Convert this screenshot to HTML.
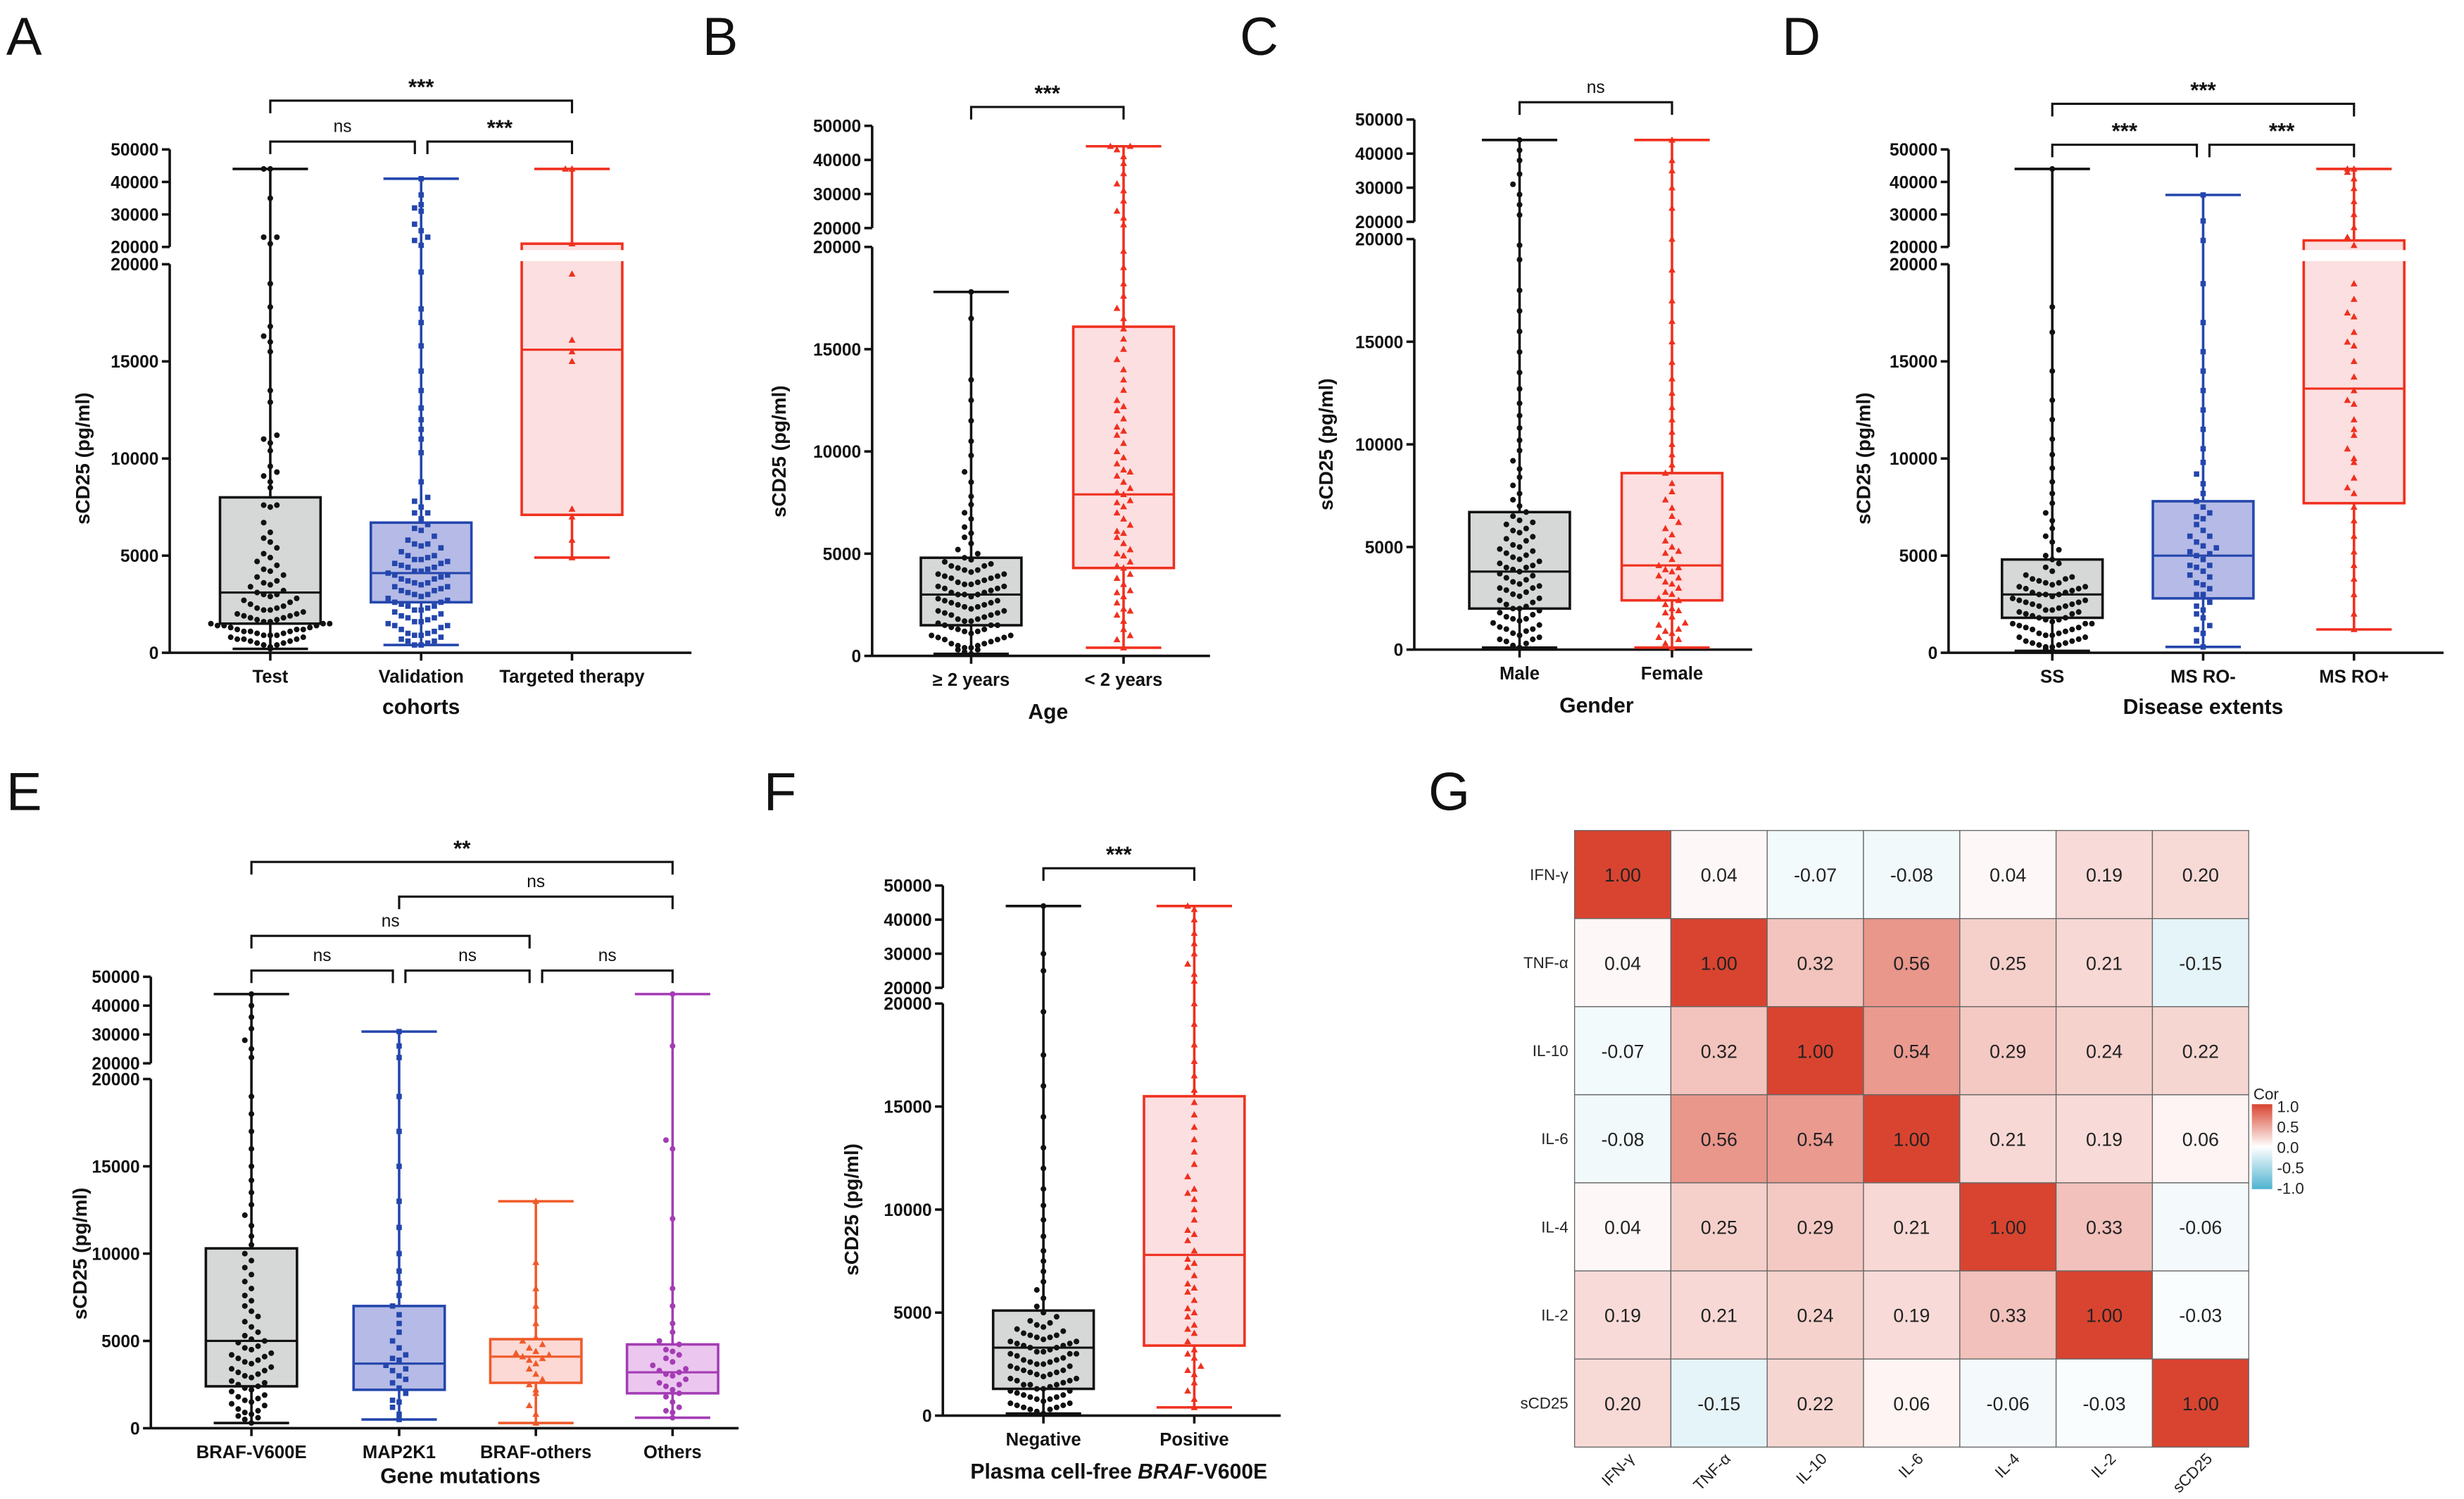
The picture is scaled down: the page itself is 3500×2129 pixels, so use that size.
<!DOCTYPE html>
<html><head><meta charset="utf-8"><style>
html,body{margin:0;padding:0;background:#fff}
svg{display:block}
text{font-family:"Liberation Sans",Arial,sans-serif}
</style></head><body>
<svg id="fig" width="3500" height="2129" viewBox="0 0 1568 953" preserveAspectRatio="none" xmlns="http://www.w3.org/2000/svg"></svg>
<script>
// ---- data (values in thousands pg/ml) ----
const panelALabels=["Test","Validation","Targeted therapy"];
const aTest=[0.2,0.3,0.4,0.5,0.5,0.6,0.7,0.7,0.8,0.8,0.9,0.9,1.0,1.0,1.1,1.1,1.2,1.2,1.3,1.3,1.4,1.4,1.5,1.5,1.6,1.6,1.7,1.7,1.8,1.8,1.9,2.0,2.0,2.1,2.2,2.2,2.3,2.4,2.5,2.6,2.7,2.8,2.9,3.0,3.0,3.1,3.2,3.4,3.5,3.6,3.7,3.9,4.0,4.2,4.3,4.5,4.7,4.9,5.1,5.4,5.7,5.9,6.2,6.7,7.5,7.6,7.6,8.5,8.8,9.1,9.3,9.6,10.4,10.8,11.0,11.2,12.9,13.5,15.5,16.0,16.3,16.8,17.8,19.0,21,23,23,35,44,44,0.4,0.6,0.9,1.2,1.5,1.9,2.3,0.7,1.1,1.4];
const aVal=[0.4,0.4,0.5,0.6,0.7,0.8,0.9,1.0,1.1,1.2,1.3,1.4,1.5,1.6,1.7,1.8,1.9,2.0,2.1,2.2,2.3,2.4,2.5,2.6,2.7,2.8,2.9,3.0,3.1,3.2,3.3,3.4,3.5,3.6,3.7,3.8,3.9,4.0,4.1,4.2,4.3,4.4,4.5,4.6,4.7,4.8,4.9,5.0,5.2,5.4,5.6,5.8,6.0,6.3,6.6,6.9,7.2,7.5,7.8,8.0,8.8,10.3,11.0,11.5,12.0,12.6,13.5,14.5,15.8,17.0,17.7,19.6,20.5,22,23,25,27,31,32,33,36,41,0.6,1.0,1.4,1.8,2.2,2.6,3.0,3.4,3.8,4.2,4.6,5.0,5.5,0.9,1.6,2.4,3.2,4.0,4.8,5.6,6.4,7.2,3.6,4.4];
const aTT=[4.9,5.8,7.0,7.4,15.0,15.5,16.1,19.5,21,44,44];
const aQ1=[1.5,2.6,7.1], aMed=[3.1,4.1,15.6], aQ3=[8.0,6.7,21], aMin=[0.2,0.4,4.9], aMax=[44,41,44];

const panelBLabels=["\u2265 2 years","< 2 years"];
const bOld=[0.1,0.2,0.3,0.4,0.5,0.6,0.7,0.8,0.9,1.0,1.1,1.2,1.3,1.4,1.5,1.6,1.7,1.8,1.9,2.0,2.1,2.2,2.3,2.4,2.5,2.6,2.7,2.8,2.9,3.0,3.1,3.2,3.3,3.4,3.5,3.6,3.7,3.8,3.9,4.0,4.1,4.2,4.3,4.4,4.5,4.6,4.7,4.8,0.3,0.6,0.9,1.2,1.5,1.8,2.1,2.4,2.7,3.0,3.3,3.6,3.9,4.2,0.5,1.0,1.5,2.0,2.5,3.0,3.5,4.0,5.0,5.2,5.5,5.8,6.0,6.3,6.7,7.0,7.4,7.8,8.5,9.0,9.8,10.5,11.5,12.5,13.5,16.5,17.8,0.4,0.8,1.3,1.7,2.2,2.6,3.1,3.4,3.8,4.4];
const bYoung=[0.4,0.8,1.0,1.3,1.7,2.0,2.3,2.6,2.9,3.2,3.5,3.8,4.0,4.3,4.6,4.9,5.2,5.5,5.8,6.1,6.4,6.7,7.0,7.3,7.6,7.9,8.2,8.5,8.8,9.1,9.4,9.7,10.0,10.4,10.8,11.2,11.6,12.0,12.5,13.0,13.5,14.0,14.5,15.0,15.5,16.0,16.5,17.0,17.6,18.2,19.0,19.8,21,23,25,28,31,33,36,39,41,43,44,44,2.2,3.1,4.4,5.0,6.0,7.5,8.0,9.0,11.0,12.2];
const bQ1=[1.5,4.3], bMed=[3.0,7.9], bQ3=[4.8,16.1], bMin=[0.1,0.4], bMax=[17.8,44];

const panelCLabels=["Male","Female"];
const cMale=[0.1,0.2,0.3,0.5,0.6,0.8,0.9,1.0,1.2,1.3,1.5,1.6,1.8,1.9,2.0,2.1,2.3,2.4,2.6,2.7,2.9,3.0,3.2,3.3,3.5,3.6,3.8,3.9,4.0,4.2,4.3,4.5,4.6,4.8,4.9,5.1,5.3,5.5,5.7,5.9,6.1,6.3,6.5,6.7,7.0,7.3,7.6,8.0,8.4,8.8,9.2,9.7,10.2,10.8,11.4,12.0,12.7,13.5,14.5,15.5,16.5,17.5,19.0,19.7,22,25,28,31,34,38,41,44,0.4,0.7,1.1,1.4,1.7,2.2,2.5,2.8,3.1,3.4,3.7,4.1,4.4,4.7,5.0,5.4,5.8,6.2,0.5,1.0,1.5,2.0,3.0,4.0];
const cFemale=[0.1,0.3,0.5,0.8,1.0,1.3,1.6,1.9,2.2,2.5,2.8,3.0,3.3,3.6,3.9,4.1,4.4,4.7,5.0,5.3,5.6,5.9,6.2,6.5,6.9,7.3,7.7,8.1,8.6,9.0,9.5,10.0,10.6,11.2,11.8,12.5,13.2,14.0,15.0,16.0,17.0,18.5,20,24,30,35,38,44,0.6,1.2,1.8,2.4,3.2,4.0,4.8,0.9,2.0,3.5,2.7,3.8];
const cQ1=[2.0,2.4], cMed=[3.8,4.1], cQ3=[6.7,8.6], cMin=[0.1,0.1], cMax=[44,44];

const panelDLabels=["SS","MS RO-","MS RO+"];
const dSS=[0.1,0.2,0.3,0.4,0.5,0.6,0.7,0.8,0.9,1.0,1.1,1.2,1.3,1.4,1.5,1.6,1.7,1.8,1.9,2.0,2.1,2.2,2.3,2.4,2.5,2.6,2.7,2.8,2.9,3.0,3.1,3.2,3.3,3.4,3.5,3.6,3.7,3.8,3.9,4.0,4.2,4.4,4.6,4.8,0.3,0.6,0.9,1.2,1.5,1.8,2.1,2.4,2.7,3.0,3.3,3.6,0.5,1.0,1.5,2.0,2.5,3.0,5.0,5.3,5.7,6.0,6.4,6.8,7.2,7.7,8.2,8.8,9.5,10.2,11.0,12.0,13.0,14.5,16.5,17.8,44,0.4,0.8,1.3,1.7,2.2,2.6,3.1,3.4,3.8];
const dRoMinus=[0.3,0.6,1.0,1.4,1.8,2.2,2.6,3.0,3.3,3.6,3.9,4.2,4.5,4.8,5.1,5.4,5.7,6.0,6.3,6.6,6.9,7.2,7.5,7.8,8.2,8.7,9.2,9.8,10.5,11.5,12.5,13.5,14.5,15.5,17,19,22,28,36,2.0,3.0,4.0,5.0,6.0,7.0,4.5,5.5,1.2,2.4,3.5,4.4,5.2];
const dRoPlus=[1.2,2.0,3.0,3.8,4.5,5.2,6.0,6.8,7.5,8.2,9.0,9.8,10.5,11.2,12.0,12.8,13.5,14.2,15.0,15.8,16.5,17.3,18.2,19.0,20.5,23,26,30,34,38,41,43,44,44,8.5,10.0,11.5,13.0,16.0,17.5];
const dQ1=[1.8,2.8,7.7], dMed=[3.0,5.0,13.6], dQ3=[4.8,7.8,22], dMin=[0.1,0.3,1.2], dMax=[44,36,44];

const panelELabels=["BRAF-V600E","MAP2K1","BRAF-others","Others"];
const eBraf=[0.3,0.5,0.7,0.9,1.1,1.3,1.5,1.7,1.9,2.1,2.3,2.5,2.7,2.9,3.1,3.3,3.5,3.7,3.9,4.1,4.3,4.5,4.7,4.9,5.1,5.3,5.5,5.8,6.1,6.4,6.7,7.0,7.3,7.6,8.0,8.4,8.8,9.2,9.6,10.0,10.5,11.0,11.6,12.2,12.8,13.5,14.2,15.0,16.0,17.0,18.0,19.0,22,25,28,32,36,40,44,0.6,1.0,1.4,1.8,2.2,2.6,3.0,3.4,3.8,4.2,4.6,5.0,0.8,1.6,2.4,3.2,4.0];
const eMap=[0.5,0.8,1.2,1.6,2.0,2.3,2.6,3.0,3.3,3.6,3.9,4.2,4.6,5.0,5.5,6.0,6.5,7.0,7.6,8.3,9.0,10.0,11.5,13.0,15.0,17.0,19.0,22,26,31,1.5,2.8,3.4,4.0];
const eOthBraf=[0.3,0.8,1.3,2.0,2.5,2.8,3.1,3.4,3.7,4.0,4.1,4.2,4.4,4.6,4.8,5.0,5.2,6.0,7.0,8.0,9.5,13.0,3.9,4.3,2.2];
const eOthers=[0.6,0.9,1.2,1.5,1.8,2.0,2.2,2.4,2.6,2.8,3.0,3.1,3.2,3.4,3.6,3.8,4.0,4.2,4.5,4.8,5.0,5.5,6.0,7.0,8.0,12.0,16.0,16.5,26,44,1.0,2.5,3.3,4.4];
const eQ1=[2.4,2.2,2.6,2.0], eMed=[5.0,3.7,4.1,3.2], eQ3=[10.3,7.0,5.1,4.8], eMin=[0.3,0.5,0.3,0.6], eMax=[44,31,13,44];

const panelFLabels=["Negative","Positive"];
const fNeg=[0.1,0.2,0.3,0.4,0.5,0.6,0.7,0.8,0.9,1.0,1.1,1.2,1.3,1.4,1.5,1.6,1.7,1.8,1.9,2.0,2.1,2.2,2.3,2.4,2.5,2.6,2.7,2.8,2.9,3.0,3.1,3.2,3.3,3.4,3.5,3.6,3.7,3.8,3.9,4.0,4.2,4.4,4.6,4.8,5.0,0.3,0.6,0.9,1.2,1.5,1.8,2.1,2.4,2.7,3.0,3.3,3.6,3.9,4.3,0.5,1.0,1.5,2.0,2.5,3.0,3.5,5.3,5.7,6.1,6.5,7.0,7.5,8.0,8.7,9.5,10.2,11.0,12.0,13.0,14.5,16.0,17.5,19.6,25,30,44,0.4,0.8,1.3,1.7,2.2,2.6,3.1,3.4,3.8,4.1,4.5];
const fPos=[0.4,0.8,1.2,1.6,2.0,2.4,2.8,3.2,3.6,4.0,4.4,4.8,5.2,5.6,6.0,6.4,6.8,7.2,7.6,8.0,8.5,9.0,9.5,10.0,10.5,11.0,11.6,12.2,12.8,13.4,14.0,14.6,15.2,15.8,16.5,17.2,18.0,19.0,20,22,24,27,30,33,36,40,43,44,2.2,3.0,4.2,5.0,6.2,7.4,8.8,10.8];
const fQ1=[1.3,3.4], fMed=[3.3,7.8], fQ3=[5.1,15.5], fMin=[0.1,0.4], fMax=[44,44];

// heatmap
const hmLabels=["IFN-\u03b3","TNF-\u03b1","IL-10","IL-6","IL-4","IL-2","sCD25"];
const hmRows=[
 [1.00,0.04,-0.07,-0.08,0.04,0.19,0.20],
 [0.04,1.00,0.32,0.56,0.25,0.21,-0.15],
 [-0.07,0.32,1.00,0.54,0.29,0.24,0.22],
 [-0.08,0.56,0.54,1.00,0.21,0.19,0.06],
 [0.04,0.25,0.29,0.21,1.00,0.33,-0.06],
 [0.19,0.21,0.24,0.19,0.33,1.00,-0.03],
 [0.20,-0.15,0.22,0.06,-0.06,-0.03,1.00]];
const legendTicks=["1.0","0.5","0.0","-0.5","-1.0"];

// ---- drawing ----
const svg=document.getElementById('fig');
const NS="http://www.w3.org/2000/svg";
function mk(tag,attrs,parent,txt){const e=document.createElementNS(NS,tag);for(const k in attrs)e.setAttribute(k,attrs[k]);if(txt!==undefined)e.textContent=txt;(parent||svg).appendChild(e);return e;}
function grp(name,parent){const g=mk('g',{},parent);


return g;}

function panel(cfg){
 const g=grp(cfg.name);
 const L=mk('text',{x:cfg.letter[0],y:cfg.letter[1],'font-size':34,fill:'#111'},g,cfg.letterText);
 
 
 const ax=cfg.ax, y0=cfg.y0, y20a=cfg.y20a, y20b=cfg.y20b, y50=cfg.y50;
 const Y=v=>v<=20?y0-(v/20)*(y0-y20a):y20b-(v-20)/30*(y20b-y50);
 const sw=1.6;
 const axg=grp('y-axis',g);
 mk('line',{x1:ax,y1:y0,x2:ax,y2:y20a,stroke:'#111','stroke-width':sw},axg);
 mk('line',{x1:ax,y1:y20b,x2:ax,y2:y50,stroke:'#111','stroke-width':sw},axg);
 const lowT=[0,5,10,15,20], upT=[20,30,40,50];
 lowT.forEach(t=>{const y=Y(t);mk('line',{x1:ax-5,y1:y,x2:ax,y2:y,stroke:'#111','stroke-width':sw},axg);
  const tx=mk('text',{x:ax-7,y:y+4,'font-size':11,'font-weight':'bold','text-anchor':'end',fill:'#111'},axg,String(t*1000));
  
  });
 upT.forEach(t=>{const y=t===20?y20b:Y(t+0.0001);mk('line',{x1:ax-5,y1:y,x2:ax,y2:y,stroke:'#111','stroke-width':sw},axg);
  const tx=mk('text',{x:ax-7,y:y+4,'font-size':11,'font-weight':'bold','text-anchor':'end',fill:'#111'},axg,String(t*1000));
  
  });
 const yt=mk('text',{x:0,y:0,'font-size':12.5,'font-weight':'bold','text-anchor':'middle',fill:'#111',transform:`translate(${cfg.ytitleX},${(y0+y20a)/2}) rotate(-90)`},axg,'sCD25 (pg/ml)');
 
 
 const xg=grp('x-axis',g);
 const xs=cfg.xs;
 mk('line',{x1:ax,y1:y0,x2:cfg.xEnd,y2:y0,stroke:'#111','stroke-width':sw},xg);
 xs.forEach((x,i)=>{mk('line',{x1:x,y1:y0,x2:x,y2:y0+5,stroke:'#111','stroke-width':sw},xg);
  const tx=mk('text',{x:x,y:y0+19,'font-size':11.5,'font-weight':'bold','text-anchor':'middle',fill:'#111'},xg,cfg.labels[i]);
  
  });
 const xt=mk('text',{x:cfg.xtitle[0],y:cfg.xtitle[1],'font-size':13.5,'font-weight':'bold','text-anchor':'middle',fill:'#111'},xg);
 
 
 if(cfg.xtitleParts){cfg.xtitleParts.forEach(p=>{mk('tspan',p[1]?{'font-style':'italic'}:{},xt,p[0]);});}else xt.textContent=cfg.xtitleText;
 xs.forEach((x,i)=>{
  const s=cfg.styles[i];
  const gg=grp('group-'+cfg.labels[i].toLowerCase().replace(/[^a-z0-9]+/g,'-'),g);
  const bw=cfg.bw||32;
  const yq1=Y(cfg.q1[i]), yq3=Y(cfg.q3[i]), ym=Y(cfg.med[i]);
  mk('line',{x1:x,y1:Y(cfg.mn[i]),x2:x,y2:Y(cfg.mx[i]),stroke:s.c,'stroke-width':1.6},gg);
  const box=mk('rect',{x:x-bw,y:yq3,width:2*bw,height:yq1-yq3,fill:s.f,stroke:s.c,'stroke-width':1.6},gg);
  
  
  if(cfg.q3[i]>20){mk('rect',{x:x-bw-1,y:y20b+2,width:2*bw+2,height:y20a-y20b-4,fill:'#fff'},gg);}
  mk('line',{x1:x-bw,y1:ym,x2:x+bw,y2:ym,stroke:s.c,'stroke-width':1.4},gg);
  mk('line',{x1:x-24,y1:Y(cfg.mx[i]),x2:x+24,y2:Y(cfg.mx[i]),stroke:s.c,'stroke-width':1.6},gg);
  mk('line',{x1:x-24,y1:Y(cfg.mn[i]),x2:x+24,y2:Y(cfg.mn[i]),stroke:s.c,'stroke-width':1.6},gg);
  // swarm: bin by 8px rows, spread horizontally
  const vals=cfg.pts[i].slice().sort((a,b)=>a-b);
  const bins={};
  vals.forEach(v=>{const k=Math.round(Y(v)/8);(bins[k]=bins[k]||[]).push(v);});
  Object.keys(bins).forEach(k=>{const arr=bins[k];arr.forEach((v,j)=>{
   const off=(j%2===0?1:-1)*Math.ceil(j/2);
   const px=x+off*4.2, py=Y(v);
   let d;
   if(s.m==='tri')d=mk('path',{d:`M${px},${py-2.3}L${px+2.2},${py+1.7}L${px-2.2},${py+1.7}Z`,fill:s.c},gg);
   else if(s.m==='sq')d=mk('rect',{x:px-1.7,y:py-1.7,width:3.4,height:3.4,fill:s.c},gg);
   else d=mk('circle',{cx:px,cy:py,r:1.8,fill:s.c},gg);
   
   
  });});
 });
 cfg.brackets.forEach(b=>{
  const bg=grp('significance-bracket',g);
  const x1=xs[b[0]]+(b[3]||0), x2=xs[b[1]]-(b[4]||0), y=b[2];
  mk('path',{d:`M${x1},${y+8}V${y}H${x2}V${y+8}`,fill:'none',stroke:'#111','stroke-width':1.4},bg);
  const t=mk('text',{x:(x1+x2)/2,y:b[5]==='ns'?y-6:y-4,'font-size':b[5]==='ns'?11:14,'font-weight':b[5]==='ns'?'normal':'bold','text-anchor':'middle',fill:'#111'},bg,b[5]);
  
  
 });
}
const K={c:'#111',f:'#d6d8d8',m:'c'}, BL={c:'#2446ad',f:'#b5bbe6',m:'sq'}, RD={c:'#f0301f',f:'#fcdfe0',m:'tri'},
      OR={c:'#f05a2a',f:'#fcd9d4',m:'tri'}, PU={c:'#a43cb4',f:'#ebc7ef',m:'c'};

panel({name:'panel-a',letterText:'A',letter:[4,35],ax:108,y0:415,y20a:168,y20b:157,y50:95,ytitleX:57,xs:[172,268,364],xEnd:440,labels:panelALabels,
 xtitle:[268,454],xtitleText:'cohorts',styles:[K,BL,RD],pts:[aTest,aVal,aTT],q1:aQ1,med:aMed,q3:aQ3,mn:aMin,mx:aMax,
 brackets:[[0,1,90,0,4,'ns'],[1,2,90,4,0,'***'],[0,2,64,0,0,'***']]});
panel({name:'panel-b',letterText:'B',letter:[447,35],ax:555,y0:417,y20a:157,y20b:145,y50:80,ytitleX:500,xs:[618,715],xEnd:770,labels:panelBLabels,
 xtitle:[667,457],xtitleText:'Age',styles:[K,RD],pts:[bOld,bYoung],q1:bQ1,med:bMed,q3:bQ3,mn:bMin,mx:bMax,
 brackets:[[0,1,68,0,0,'***']]});
panel({name:'panel-c',letterText:'C',letter:[789,35],ax:900,y0:413,y20a:152,y20b:141,y50:76,ytitleX:848,xs:[967,1064],xEnd:1115,labels:panelCLabels,
 xtitle:[1016,453],xtitleText:'Gender',styles:[K,RD],pts:[cMale,cFemale],q1:cQ1,med:cMed,q3:cQ3,mn:cMin,mx:cMax,
 brackets:[[0,1,65,0,0,'ns']]});
panel({name:'panel-d',letterText:'D',letter:[1134,35],ax:1240,y0:415,y20a:168,y20b:157,y50:95,ytitleX:1190,xs:[1306,1402,1498],xEnd:1555,labels:panelDLabels,
 xtitle:[1402,454],xtitleText:'Disease extents',styles:[K,BL,RD],pts:[dSS,dRoMinus,dRoPlus],q1:dQ1,med:dMed,q3:dQ3,mn:dMin,mx:dMax,
 brackets:[[0,1,92,0,4,'***'],[1,2,92,4,0,'***'],[0,2,66,0,0,'***']]});
panel({name:'panel-e',letterText:'E',letter:[4,515],ax:96,y0:908,y20a:686,y20b:676,y50:621,ytitleX:55,xs:[160,254,341,428],xEnd:470,bw:29,labels:panelELabels,
 xtitle:[293,943],xtitleText:'Gene mutations',styles:[K,BL,OR,PU],pts:[eBraf,eMap,eOthBraf,eOthers],q1:eQ1,med:eMed,q3:eQ3,mn:eMin,mx:eMax,
 brackets:[[0,1,617,0,4,'ns'],[1,2,617,4,4,'ns'],[2,3,617,4,0,'ns'],[0,2,595,0,4,'ns'],[1,3,570,0,0,'ns'],[0,3,548,0,0,'**']]});
panel({name:'panel-f',letterText:'F',letter:[486,515],ax:600,y0:900,y20a:638,y20b:628,y50:563,ytitleX:546,xs:[664,760],xEnd:815,labels:panelFLabels,
 xtitle:[712,940],xtitleParts:[['Plasma cell-free ',false],['BRAF',true],['-V600E',false]],styles:[K,RD],pts:[fNeg,fPos],q1:fQ1,med:fMed,q3:fQ3,mn:fMin,mx:fMax,
 brackets:[[0,1,552,0,0,'***']]});

(function(){
 const g=grp('panel-g');
 const L=mk('text',{x:909,y:515,'font-size':34,fill:'#111'},g,'G');
 
 
 const x0=1002,y0=528,x1=1431,y1=920,n=hmLabels.length,cw=(x1-x0)/n,ch=(y1-y0)/n;
 const red=[216,68,48], blue=[79,179,208];
 const col=v=>{const t=Math.min(1,Math.abs(v));const c=v>=0?red:blue;const m=i=>Math.round(255+(c[i]-255)*t);return `rgb(${m(0)},${m(1)},${m(2)})`;};
 hmRows.forEach((row,r)=>{row.forEach((v,c)=>{
  const cell=mk('rect',{x:x0+c*cw,y:y0+r*ch,width:cw,height:ch,fill:col(v),stroke:'#666','stroke-width':0.6},g);
  
  
  const t=mk('text',{x:x0+(c+0.5)*cw,y:y0+(r+0.5)*ch+4.5,'font-size':12,'text-anchor':'middle',fill:'#222'},g,v.toFixed(2));
  
  
 });
  const rl=mk('text',{x:x0-4,y:y0+(r+0.5)*ch+3.5,'font-size':10,'text-anchor':'end',fill:'#222'},g,hmLabels[r]);
  
  
  const cl=mk('text',{x:0,y:0,'font-size':10,'text-anchor':'end',fill:'#222',transform:`translate(${x0+(r+0.5)*cw+8},${y1+8}) rotate(-45)`},g,hmLabels[r]);
  
  
 });
 const lg=grp('color-legend',g);
 const defs=mk('defs',{},lg);
 const gr=mk('linearGradient',{id:'cg',x1:0,y1:0,x2:0,y2:1},defs);
 mk('stop',{offset:'0',  'stop-color':col(1)},gr);
 mk('stop',{offset:'0.5','stop-color':'#fff'},gr);
 mk('stop',{offset:'1',  'stop-color':col(-1)},gr);
 mk('rect',{x:1433,y:702,width:13,height:54,fill:'url(#cg)'},lg);
 mk('text',{x:1434,y:699,'font-size':10,fill:'#222'},lg,'Cor');
 legendTicks.forEach((t,i)=>{const tx=mk('text',{x:1449,y:707+i*13,'font-size':10,fill:'#222'},lg,t);
  
  });
})();
</script>
</body></html>
